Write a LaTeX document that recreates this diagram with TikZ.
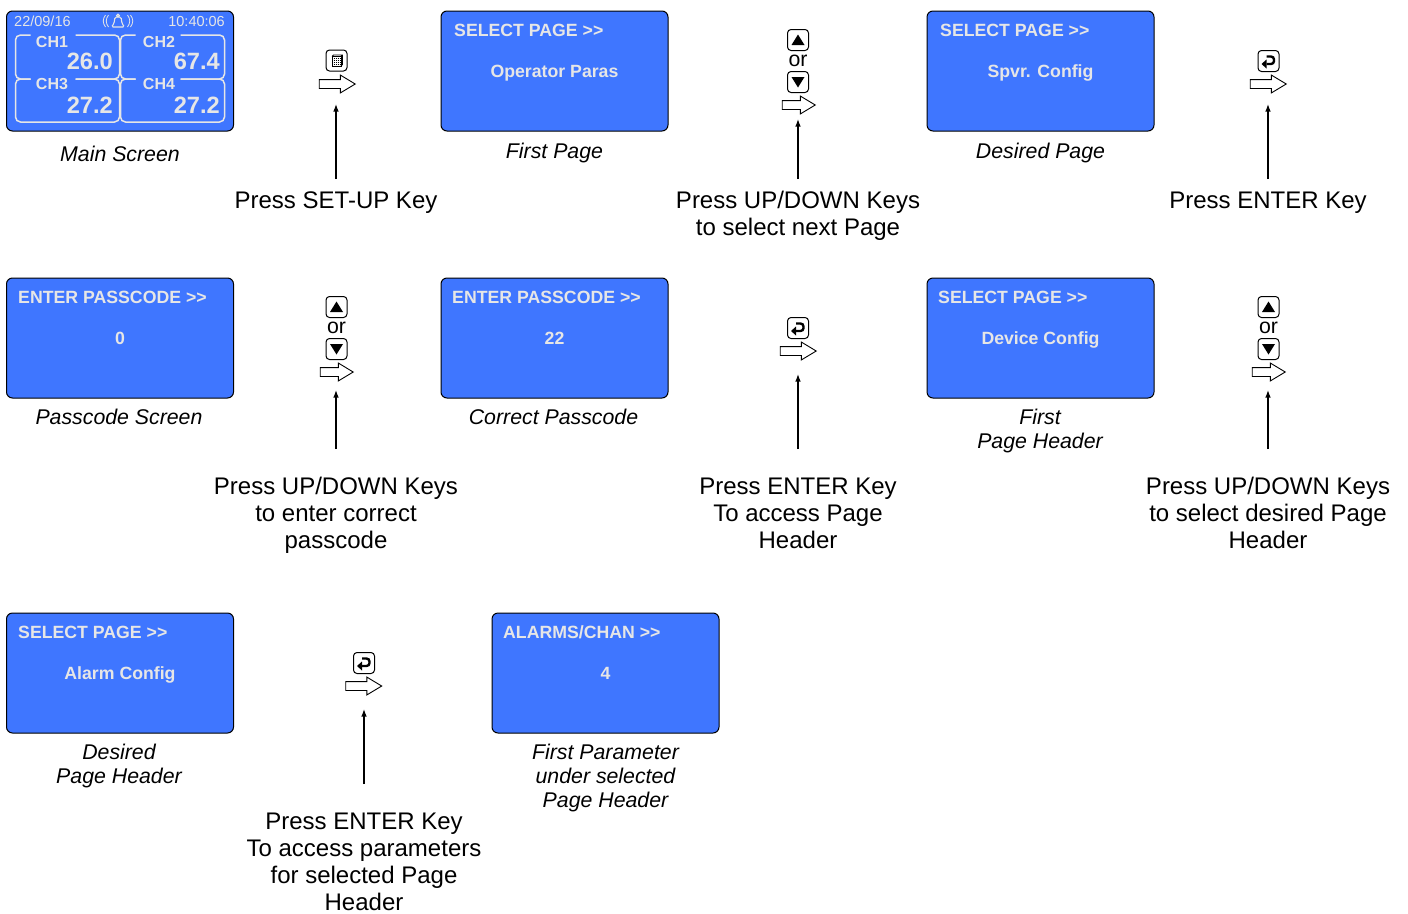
\documentclass[tikz,border=0pt]{standalone}
\usepackage{fontspec}
\setmainfont{Liberation Sans}
\usepackage{tikz}
\usetikzlibrary{shapes.arrows,arrows.meta}
\definecolor{lcdblue}{HTML}{3F76FF}
\definecolor{lcdtext}{HTML}{E6E6E6}
\tikzset{
  lcdbox/.style={draw=black,line width=1pt,fill=lcdblue,rounded corners=6pt,minimum width=227pt,minimum height=120pt,inner sep=0pt},
  lcdtitle/.style={anchor=base west,text=lcdtext,inner sep=0pt,font=\bfseries\fontsize{17.7}{20}\selectfont},
  lcdvalue/.style={anchor=base,text=lcdtext,inner sep=0pt,font=\bfseries\fontsize{17.7}{20}\selectfont},
  caption/.style={anchor=north,align=center,inner sep=0pt,font=\itshape\fontsize{21.3}{24}\selectfont},
  presslabel/.style={anchor=north,align=center,inner sep=0pt,font=\fontsize{24}{27}\selectfont},
  pressline/.style={line width=1.2pt,-{Latex[length=7.5pt,width=5.5pt]}},
  keybox/.style={draw=black,line width=1pt,rounded corners=3.5pt,minimum size=21pt,inner sep=0pt},
  flowarrow/.style={single arrow,draw=black,line width=0.9pt,fill=white,inner xsep=0pt,inner ysep=4pt,minimum height=#1,single arrow head extend=4.5pt,single arrow head indent=0pt,single arrow tip angle=62},
  panelline/.style={draw=lcdtext,line width=1.5pt,rounded corners=5pt},
  chname/.style={anchor=base,text=lcdtext,inner sep=0pt,font=\bfseries\fontsize{16}{18}\selectfont},
  chvalue/.style={anchor=base east,text=lcdtext,inner sep=0pt,font=\bfseries\fontsize{23.6}{26}\selectfont},
  lcdclock/.style={text=lcdtext,inner sep=0pt,font=\fontsize{14.5}{16}\selectfont}
}
% #1 name, #2 centre x, #3 centre y, #4 title x, #5 title, #6 value
\newcommand{\lcdpage}[6]{
  \node[lcdbox] (#1) at (#2,#3) {};
  \node[lcdtitle] (#1title) at (#4,#3-35) {#5};
  \node[lcdvalue] (#1value) at (#2,#3+6) {#6};
}
\newcommand{\upkey}[3]{
  \node[keybox] (#1) at (#2,#3) {};
  \fill (#2-6.5,#3+5)--(#2+6.5,#3+5)--(#2,#3-5.5)--cycle;
}
\newcommand{\downkey}[3]{
  \node[keybox] (#1) at (#2,#3) {};
  \fill (#2-6.5,#3-5)--(#2+6.5,#3-5)--(#2,#3+5.5)--cycle;
}
\newcommand{\enterkey}[3]{
  \node[keybox] (#1) at (#2,#3) {};
  \draw[line width=2.4pt,rounded corners=3pt] (#2-2,#3-4.5)--(#2+5.5,#3-4.5)--(#2+5.5,#3+3)--(#2-2,#3+3);
  \fill (#2-7,#3+3)--(#2-2,#3-1.5)--(#2-2,#3+7.5)--cycle;
}
\newcommand{\updownkeys}[3]{
  \upkey{#1up}{#2}{#3}
  \node[inner sep=0pt,font=\fontsize{21.3}{24}\selectfont] (#1or) at (#2,#3+21) {or};
  \downkey{#1down}{#2}{#3+42}
}

\begin{document}
\begin{tikzpicture}[x=1pt,y=-1pt]
  \useasboundingbox (0,0) rectangle (1408,913);

  % pantalla principal
  \node[lcdbox] (mainscreen) at (120,71) {};
  \node[lcdclock,anchor=base west] (maindate) at (14,26) {22/09/16};
  \node[lcdclock,anchor=base east] (maintime) at (225,26) {10:40:06};
  \foreach \lx/\rx in {15.5/119.5,120.5/224.5}{
    \draw[panelline] (\lx+15,35)--(\lx,35)--(\lx,79)--(\lx+15,79);
    \draw[panelline] (\lx+60,35)--(\rx,35)--(\rx,79)--(\lx+60,79);
    \draw[panelline] (\lx+15,79)--(\lx,79)--(\lx,122)--(\rx,122)--(\rx,79)--(\lx+60,79);
  }
  \node[chname] (chone) at (52,47.5) {CH1};
  \node[chname] (chtwo) at (159,47.5) {CH2};
  \node[chname] (chthree) at (52,89.5) {CH3};
  \node[chname] (chfour) at (159,89.5) {CH4};
  \node[chvalue] (valone) at (113,69.5) {26.0};
  \node[chvalue] (valtwo) at (220,69.5) {67.4};
  \node[chvalue] (valthree) at (113,113) {27.2};
  \node[chvalue] (valfour) at (220,113) {27.2};
  % campana
  \draw[lcdtext,line width=1.1pt,rounded corners=1.5pt] (111.5,27)--(114,23.5)--(115,17)--(121,17)--(122,23.5)--(124.5,27)--cycle;
  \draw[lcdtext,line width=1pt] (118,15.5) circle (1.3);
  \foreach \dx in {0,3}{
    \draw[lcdtext,line width=0.8pt] (108.5-\dx,15) .. controls (105.5-\dx,19) and (105.5-\dx,23) .. (108.5-\dx,27);
    \draw[lcdtext,line width=0.8pt] (127.5+\dx,15) .. controls (130.5+\dx,19) and (130.5+\dx,23) .. (127.5+\dx,27);
  }
  \node[caption] (maincap) at (120,146) {Main Screen};

  % primera fila
  \node[keybox] (setupkey) at (336.5,60.5) {};
  \draw[line width=0.8pt,fill=white] (332,56.5) rectangle (341,66);
  \draw[line width=0.8pt] (332,56.5)--(333.5,55)--(342.5,55)--(342.5,64.5)--(341,66) (341,56.5)--(342.5,55);
  \foreach \gy in {58.5,60.5,62.5,64.5}{
    \draw[line width=1pt,dash pattern=on 1pt off 1pt] (333.5,\gy)--(340,\gy);
  }
  \node[flowarrow=36pt] (setuparrow) at (333.5,84) {};
  \node[presslabel] (setupnote) at (336,192) {Press SET-UP Key};
  \coordinate (setuptip) at (336,104);
  \draw[pressline,shorten <=13pt] (setupnote.north)--(setuptip);

  \lcdpage{firstpage}{554.5}{71}{454}{SELECT PAGE >{}>}{Operator Paras}
  \node[caption] (firstcap) at (554.5,143) {First Page};

  \updownkeys{pagekeys}{798}{40}
  \node[flowarrow=33pt] (pagearrow) at (795,105) {};
  \node[presslabel] (pagenote) at (798,191) {Press UP/DOWN Keys\\to select next Page};
  \coordinate (pagetip) at (798,119);
  \draw[pressline,shorten <=12pt] (pagenote.north)--(pagetip);

  \lcdpage{desiredpage}{1040.5}{71}{940}{SELECT PAGE >{}>}{Spvr. Config}
  \node[caption] (desiredcap) at (1040.5,143) {Desired Page};

  \enterkey{enterone}{1268.5}{61}
  \node[flowarrow=36pt] (enteronearrow) at (1264.5,84) {};
  \node[presslabel] (enteronenote) at (1268,192) {Press ENTER Key};
  \coordinate (enteronetip) at (1268,104);
  \draw[pressline,shorten <=13pt] (enteronenote.north)--(enteronetip);

  % segunda fila
  \lcdpage{passpage}{120}{338}{18}{ENTER PASSCODE >{}>}{0}
  \node[caption] (passcap) at (119,409) {Passcode Screen};

  \updownkeys{passkeys}{336.5}{307}
  \node[flowarrow=33pt] (passarrow) at (333,372) {};
  \node[presslabel] (passnote) at (336,477) {Press UP/DOWN Keys\\to enter correct\\passcode};
  \coordinate (passtip) at (336,390);
  \draw[pressline,shorten <=28pt] (passnote.north)--(passtip);

  \lcdpage{correctpage}{554.5}{338}{452}{ENTER PASSCODE >{}>}{22}
  \node[caption] (correctcap) at (553.5,409) {Correct Passcode};

  \enterkey{entertwo}{798}{328}
  \node[flowarrow=36pt] (entertwoarrow) at (794.5,351) {};
  \node[presslabel] (entertwonote) at (798,478) {Press ENTER Key\\To access Page\\Header};
  \coordinate (entertwotip) at (798,374);
  \draw[pressline,shorten <=29pt] (entertwonote.north)--(entertwotip);

  \lcdpage{devicepage}{1040.5}{338}{938}{SELECT PAGE >{}>}{Device Config}
  \node[caption] (devicecap) at (1040,409) {First\\Page Header};

  \updownkeys{headkeys}{1268.5}{307}
  \node[flowarrow=33pt] (headarrow) at (1265,372) {};
  \node[presslabel] (headnote) at (1268,477) {Press UP/DOWN Keys\\to select desired Page\\Header};
  \coordinate (headtip) at (1268,390);
  \draw[pressline,shorten <=28pt] (headnote.north)--(headtip);

  % tercera fila
  \lcdpage{alarmpage}{120}{673}{18}{SELECT PAGE >{}>}{Alarm Config}
  \node[caption] (alarmcap) at (119,744) {Desired\\Page Header};

  \enterkey{enterthree}{364}{663}
  \node[flowarrow=36pt] (enterthreearrow) at (360,686) {};
  \node[presslabel] (enterthreenote) at (364,813) {Press ENTER Key\\To access parameters\\for selected Page\\Header};
  \coordinate (enterthreetip) at (364,709);
  \draw[pressline,shorten <=29pt] (enterthreenote.north)--(enterthreetip);

  \lcdpage{chanpage}{605.5}{673}{503}{ALARMS/CHAN >{}>}{4}
  \node[caption] (chancap) at (605.5,744) {First Parameter\\under selected\\Page Header};
\end{tikzpicture}
\end{document}
